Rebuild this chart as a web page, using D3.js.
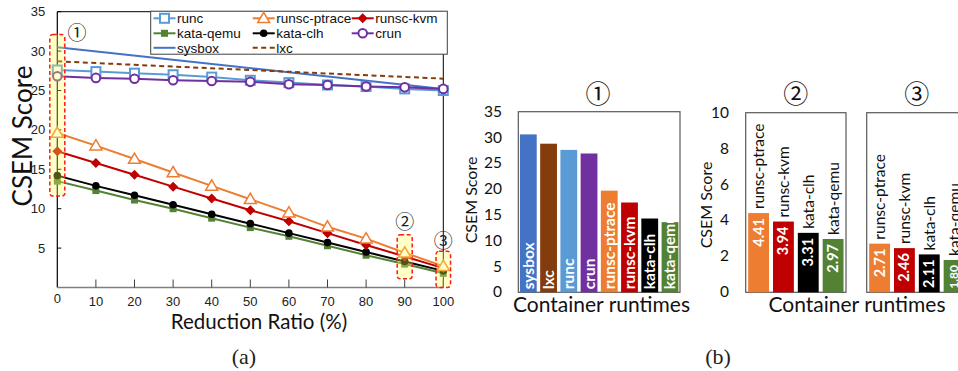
<!DOCTYPE html>
<html><head><meta charset="utf-8">
<script src="https://cdn.jsdelivr.net/npm/d3@7"></script>
<style>html,body{margin:0;padding:0;background:#fff}svg{display:block}</style>
</head><body>
<svg id="c" width="958" height="371"></svg>
<script>
// ---------- data ----------
const ratios = [0,10,20,30,40,50,60,70,80,90,100];
const runc        = [27.6,27.4,27.2,27.0,26.7,26.3,26.0,25.7,25.5,25.2,25.0];
const crun        = [26.8,26.6,26.5,26.3,26.2,26.1,25.8,25.7,25.5,25.4,25.2];
const runscPtrace = [19.6,18.0,16.3,14.6,12.9,11.2,9.5,7.7,6.2,4.41,2.71];
const runscKvm    = [17.3,15.8,14.3,12.8,11.3,9.8,8.4,6.9,5.4,3.94,2.46];
const kataClh     = [14.2,12.9,11.7,10.5,9.3,8.1,6.9,5.7,4.5,3.31,2.11];
const kataQemu    = [13.5,12.3,11.1,10.0,8.8,7.6,6.5,5.3,4.1,2.97,1.80];
const endRatios   = [0,100];
const sysbox      = [30.5,25.2];
const lxc         = [28.7,26.5];
const xTicks = [0,10,20,30,40,50,60,70,80,90,100];
const yTicks = [5,10,15,20,25,30,35];

const barCats1 = ["sysbox","lxc","runc","crun","runsc-ptrace","runsc-kvm","kata-clh","kata-qemu"];
const barVals1 = [30.6,28.8,27.6,26.9,19.7,17.4,14.3,13.6];
const barTicks1 = [0,5,10,15,20,25,30,35];
const barCats2 = ["runsc-ptrace","runsc-kvm","kata-clh","kata-qemu"];
const barVals90  = [4.41,3.94,3.31,2.97];
const barVals100 = [2.71,2.46,2.11,1.80];
const barTicks2 = [0,2,4,6,8,10];

const colors = {
  "sysbox":"#4472C4","lxc":"#843C0C","runc":"#5B9BD5","crun":"#7030A0",
  "runsc-ptrace":"#ED7D31","runsc-kvm":"#C00000","kata-clh":"#000000","kata-qemu":"#548235"
};

const svg = d3.select("#c");
const SANS = "Liberation Sans, Arial, sans-serif";
const CAL = "Lato, Carlito, sans-serif";
const CIRC = "Noto Sans CJK JP, DejaVu Sans, sans-serif";

// ---------- (a) line chart ----------
const L = {l:57.3, r:443.3, t:11.7, b:287.5};
const x = d3.scaleLinear().domain([0,100]).range([L.l, L.r]);
const y = d3.scaleLinear().domain([0,35]).range([L.b, L.t]);
const ga = svg.append("g");

ga.append("line").attr("x1",L.l).attr("x2",L.r).attr("y1",L.t).attr("y2",L.t).attr("stroke","#000");
ga.append("line").attr("x1",L.r).attr("x2",L.r).attr("y1",L.t).attr("y2",L.b).attr("stroke","#000");
ga.append("line").attr("x1",L.l).attr("x2",L.l).attr("y1",L.t).attr("y2",L.b).attr("stroke","#000").attr("stroke-width",1.2);
yTicks.forEach(t=>{
  ga.append("line").attr("x1",L.l).attr("x2",L.l+4).attr("y1",y(t)).attr("y2",y(t)).attr("stroke","#000");
  ga.append("text").attr("x",L.l-12).attr("y",y(t)+4.5).attr("text-anchor","end")
    .attr("font-family",SANS).attr("font-size",13).attr("fill","#222").text(t);
});
ga.append("line").attr("x1",L.l).attr("x2",L.r).attr("y1",L.b).attr("y2",L.b).attr("stroke","#808080").attr("stroke-width",1.6);
xTicks.forEach(t=>{
  if (t>0) ga.append("line").attr("x1",x(t)).attr("x2",x(t)).attr("y1",L.b).attr("y2",L.b-8).attr("stroke","#404040");
  ga.append("text").attr("x",x(t)).attr("y",t===0?303:306).attr("text-anchor","middle")
    .attr("font-family",SANS).attr("font-size",13).attr("fill","#222").text(t);
});
ga.append("text").attr("x",259).attr("y",329).attr("text-anchor","middle")
  .attr("font-family",CAL).attr("font-size",20.5).attr("fill","#111").text("Reduction Ratio (%)");
ga.append("text").attr("transform","translate(32,136) rotate(-90)").attr("text-anchor","middle")
  .attr("font-family",CAL).attr("font-size",26).attr("fill","#111").text("CSEM Score");

const line = d3.line().x(d=>x(d[0])).y(d=>y(d[1]));
function series(xs, vs){ return xs.map((r,i)=>[r, vs[i]]); }

const defs = [
  {name:"sysbox", xs:endRatios, vs:sysbox, marker:null},
  {name:"lxc", xs:endRatios, vs:lxc, marker:null, dash:"5,3.5"},
  {name:"kata-qemu", xs:ratios, vs:kataQemu, marker:"fsquare"},
  {name:"kata-clh", xs:ratios, vs:kataClh, marker:"fcircle"},
  {name:"runsc-kvm", xs:ratios, vs:runscKvm, marker:"diamond"},
  {name:"runsc-ptrace", xs:ratios, vs:runscPtrace, marker:"triangle"},
  {name:"runc", xs:ratios, vs:runc, marker:"hsquare"},
  {name:"crun", xs:ratios, vs:crun, marker:"hcircle"}
];

function drawMarker(g, type, cx, cy, col){
  if (type==="fsquare") g.append("rect").attr("x",cx-3.5).attr("y",cy-3.5).attr("width",7).attr("height",7).attr("fill",col);
  else if (type==="fcircle") g.append("circle").attr("cx",cx).attr("cy",cy).attr("r",3.8).attr("fill",col);
  else if (type==="diamond") g.append("path").attr("d",`M${cx},${cy-5}L${cx+5},${cy}L${cx},${cy+5}L${cx-5},${cy}Z`).attr("fill",col);
  else if (type==="triangle") g.append("path").attr("d",`M${cx},${cy-6}L${cx+6},${cy+4.3}L${cx-6},${cy+4.3}Z`).attr("fill","#fff").attr("stroke",col).attr("stroke-width",1.5);
  else if (type==="hsquare") g.append("rect").attr("x",cx-4.5).attr("y",cy-4.5).attr("width",9).attr("height",9).attr("fill","#fff").attr("stroke",col).attr("stroke-width",2);
  else if (type==="hcircle") g.append("circle").attr("cx",cx).attr("cy",cy).attr("r",4.3).attr("fill","#fff").attr("stroke",col).attr("stroke-width",2);
}

defs.forEach(s=>{
  const col = colors[s.name];
  const data = series(s.xs, s.vs);
  ga.append("path").attr("d",line(data)).attr("fill","none").attr("stroke",col)
    .attr("stroke-width", 2).attr("stroke-dasharray", s.dash||null);
  if (s.marker) data.forEach(d=>drawMarker(ga, s.marker, x(d[0]), y(d[1]), col));
});

function hbox(r, vTop, vBot, w){
  const cx = x(r);
  ga.append("rect").attr("x",cx-w/2).attr("y",y(vTop)).attr("width",w).attr("height",y(vBot)-y(vTop))
    .attr("rx",3).attr("fill","#ffff55").attr("fill-opacity",0.32)
    .attr("stroke","#ff1a1a").attr("stroke-width",1.5).attr("stroke-dasharray","4,2.5");
}
hbox(0, 32.1, 11.6, 15);
hbox(90, 6.7, 1.1, 15);
hbox(100, 4.6, 0.0, 14.5);
ga.append("text").attr("x",77).attr("y",40).attr("text-anchor","middle").attr("font-family",CIRC).attr("font-size",19).attr("fill","#222").text("①");
ga.append("text").attr("x",x(90)).attr("y",228.5).attr("text-anchor","middle").attr("font-family",CIRC).attr("font-size",19).attr("fill","#222").text("②");
ga.append("text").attr("x",x(100)).attr("y",247.5).attr("text-anchor","middle").attr("font-family",CIRC).attr("font-size",19).attr("fill","#222").text("③");

const lg = ga.append("g");
lg.append("rect").attr("x",150.7).attr("y",11.2).attr("width",296.6).attr("height",43).attr("fill","#fff").attr("stroke","#404040").attr("stroke-width",1);
const legItems = [
  {name:"runc", marker:"hsquare", col:0,row:0},
  {name:"runsc-ptrace", marker:"triangle", col:1,row:0},
  {name:"runsc-kvm", marker:"diamond", col:2,row:0},
  {name:"kata-qemu", marker:"fsquare", col:0,row:1},
  {name:"kata-clh", marker:"fcircle", col:1,row:1},
  {name:"crun", marker:"hcircle", col:2,row:1},
  {name:"sysbox", marker:null, col:0,row:2},
  {name:"lxc", marker:null, col:1,row:2, dash:"5,3.5"}
];
const colX = [153.5, 252.7, 351.7], rowY = [18.3, 33.3, 47.8];
legItems.forEach(it=>{
  const x0 = colX[it.col], yy = rowY[it.row], c = colors[it.name];
  lg.append("line").attr("x1",x0).attr("x2",x0+22).attr("y1",yy).attr("y2",yy).attr("stroke",c).attr("stroke-width",2).attr("stroke-dasharray",it.dash||null);
  if (it.marker) drawMarker(lg, it.marker, x0+11, yy, c);
  lg.append("text").attr("x",x0+23.5).attr("y",yy+4.8).attr("font-family",SANS).attr("font-size",13.5).attr("fill","#111").text(it.name);
});

ga.append("text").attr("x",244).attr("y",364).attr("text-anchor","middle")
  .attr("font-family","Liberation Serif, DejaVu Serif, serif").attr("font-size",22).attr("fill","#222").text("(a)");

// ---------- (b) bar charts ----------
const gb = svg.append("g");
const B1 = {l:518.3, r:680, t:111.7, b:292.3};
const yb1 = d3.scaleLinear().domain([0,35]).range([B1.b, B1.t]);
const xb1 = d3.scaleBand().domain(barCats1).range([B1.l, B1.r]).paddingInner(0.17).paddingOuter(0.08);
gb.append("rect").attr("x",B1.l).attr("y",B1.t).attr("width",B1.r-B1.l).attr("height",B1.b-B1.t).attr("fill","none").attr("stroke","#595959").attr("stroke-width",1.2);
barTicks1.forEach(t=>{
  gb.append("text").attr("x",502).attr("y",yb1(t)+5).attr("text-anchor","end").attr("font-family",CAL).attr("font-size",15.5).attr("fill","#111").text(t);
});
barCats1.forEach((c,i)=>{
  gb.append("rect").attr("x",xb1(c)).attr("y",yb1(barVals1[i])).attr("width",xb1.bandwidth()).attr("height",yb1(0)-yb1(barVals1[i])).attr("fill",colors[c]);
  const cx = xb1(c)+xb1.bandwidth()/2;
  gb.append("text").attr("transform",`translate(${cx+5.5},${B1.b-3}) rotate(-90)`).attr("font-family",CAL).attr("font-weight","bold")
    .attr("font-size",15.5).attr("fill","#fff").text(c);
});
gb.append("text").attr("transform","translate(477,200) rotate(-90)").attr("text-anchor","middle").attr("font-family",CAL).attr("font-size",16).attr("fill","#111").text("CSEM Score");
gb.append("text").attr("x",601.5).attr("y",312).attr("text-anchor","middle").attr("font-family",CAL).attr("font-size",21).attr("fill","#111").text("Container runtimes");
gb.append("text").attr("x",598).attr("y",103).attr("text-anchor","middle").attr("font-family",CIRC).attr("font-size",25).attr("fill","#111").text("①");

const yb2 = d3.scaleLinear().domain([0,10]).range([292.3, 112.7]);
function panel(l, vals, title){
  const r = l+100.3;
  const xb = d3.scaleBand().domain(barCats2).range([l, r]).paddingInner(0.16).paddingOuter(0.1);
  gb.append("rect").attr("x",l).attr("y",112.7).attr("width",r-l).attr("height",292.3-112.7).attr("fill","none").attr("stroke","#595959").attr("stroke-width",1.2);
  barCats2.forEach((c,i)=>{
    const v = vals[i], bx = xb(c), bw = xb.bandwidth(), cx = bx+bw/2;
    gb.append("rect").attr("x",bx).attr("y",yb2(v)).attr("width",bw).attr("height",yb2(0)-yb2(v)).attr("fill",colors[c]);
    gb.append("text").attr("transform",`translate(${cx+5.5},${yb2(v)-4}) rotate(-90)`).attr("font-family",CAL)
      .attr("font-size",15.5).attr("fill","#111").text(c);
    const small = v < 2;
    gb.append("text").attr("transform",`translate(${cx+(small?4:5)},${yb2(v)+5}) rotate(-90)`).attr("text-anchor","end").attr("font-family",CAL)
      .attr("font-weight","bold").attr("font-size",small?12:14.5).attr("fill","#fff").text(d3.format(".2f")(v));
  });
  gb.append("text").attr("x",(l+r)/2).attr("y",103).attr("text-anchor","middle").attr("font-family",CIRC).attr("font-size",25).attr("fill","#111").text(title);
}
panel(745.7, barVals90, "②");
panel(866.7, barVals100, "③");
barTicks2.forEach(t=>{
  gb.append("text").attr("x",729).attr("y",yb2(t)+5).attr("text-anchor","end").attr("font-family",CAL).attr("font-size",15.5).attr("fill","#111").text(t);
});
gb.append("text").attr("transform","translate(712,205) rotate(-90)").attr("text-anchor","middle").attr("font-family",CAL).attr("font-size",16).attr("fill","#111").text("CSEM Score");
gb.append("text").attr("x",857).attr("y",312).attr("text-anchor","middle").attr("font-family",CAL).attr("font-size",21).attr("fill","#111").text("Container runtimes");
gb.append("text").attr("x",718).attr("y",364).attr("text-anchor","middle")
  .attr("font-family","Liberation Serif, DejaVu Serif, serif").attr("font-size",22).attr("fill","#222").text("(b)");
</script>
</body></html>
